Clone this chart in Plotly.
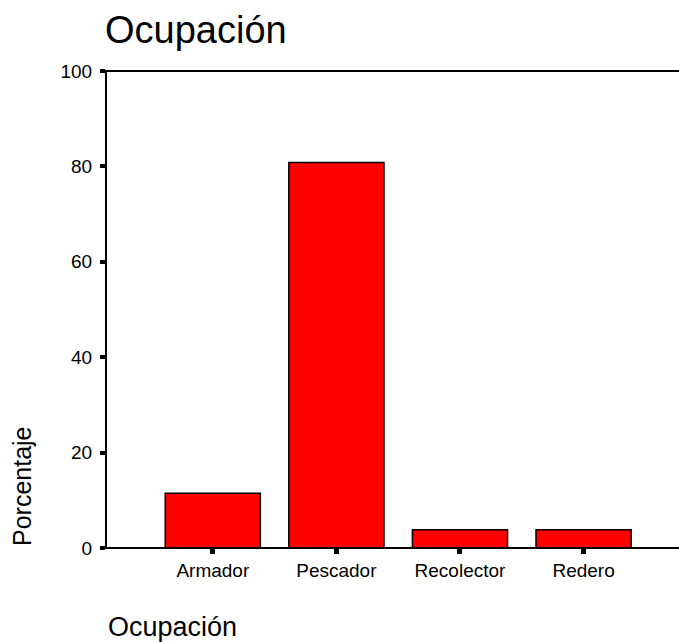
import plotly.graph_objects as go

categories = ["Armador", "Pescador", "Recolector", "Redero"]
percentages = [11.5, 80.8, 3.8, 3.8]
y_ticks = [0, 20, 40, 60, 80, 100]

FONT = "Arial, Liberation Sans, sans-serif"

fig = go.Figure(
    go.Bar(
        x=list(range(len(categories))),
        y=percentages,
        width=0.77,
        marker=dict(color="#FF0000", line=dict(color="black", width=1.5)),
    )
)

W, H = 679, 642
L, R, T, B = 107, 0, 71, 94
pw = W - L - R
ph = H - T - B

def px_x(p):
    return (p - L) / pw

def px_y(p):
    return (H - B - p) / ph

fig.update_layout(
    width=W,
    height=H,
    margin=dict(l=L, r=R, t=T, b=B, pad=0),
    paper_bgcolor="white",
    plot_bgcolor="white",
    showlegend=False,
    font=dict(family=FONT, color="black"),
    xaxis=dict(
        range=[-0.856, 3.772],
        tickmode="array",
        tickvals=list(range(len(categories))),
        ticktext=categories,
        showline=False,
        ticks="outside",
        ticklen=5,
        tickwidth=5,
        tickcolor="black",
        showgrid=False,
        zeroline=False,
        tickfont=dict(size=19, family=FONT, color="black"),
    ),
    yaxis=dict(
        range=[0, 100],
        tickmode="array",
        tickvals=y_ticks,
        ticktext=[str(v) for v in y_ticks],
        showline=True,
        linecolor="black",
        linewidth=2,
        ticks="outside",
        ticklen=5,
        tickwidth=4,
        tickcolor="black",
        showgrid=False,
        zeroline=False,
        ticklabelstandoff=4,
        tickfont=dict(size=19, family=FONT, color="black"),
    ),
    shapes=[
        dict(type="line", xref="paper", yref="paper", x0=px_x(105), x1=1.05, y0=1, y1=1,
             line=dict(color="black", width=2), layer="above"),
        dict(type="line", xref="paper", yref="paper", x0=px_x(105), x1=1.05, y0=0, y1=0,
             line=dict(color="black", width=2), layer="above"),
    ],
    annotations=[
        dict(text="Ocupación", xref="paper", yref="paper",
             x=px_x(103), y=px_y(30), xanchor="left", yanchor="middle",
             showarrow=False, font=dict(size=38, family=FONT, color="black")),
        dict(text="Ocupación", xref="paper", yref="paper",
             x=px_x(106), y=px_y(627), xanchor="left", yanchor="middle",
             showarrow=False, font=dict(size=27, family=FONT, color="black")),
        dict(text="Porcentaje", xref="paper", yref="paper",
             x=px_x(22), y=px_y(486), xanchor="center", yanchor="middle",
             textangle=-90,
             showarrow=False, font=dict(size=25, family=FONT, color="black")),
    ],
)

fig.write_html(
    "out.html",
    config={"displayModeBar": False},
    post_script=(
        "document.documentElement.style.overflow='hidden';"
        "document.body.style.margin='0';document.body.style.overflow='hidden';"
    ),
)
